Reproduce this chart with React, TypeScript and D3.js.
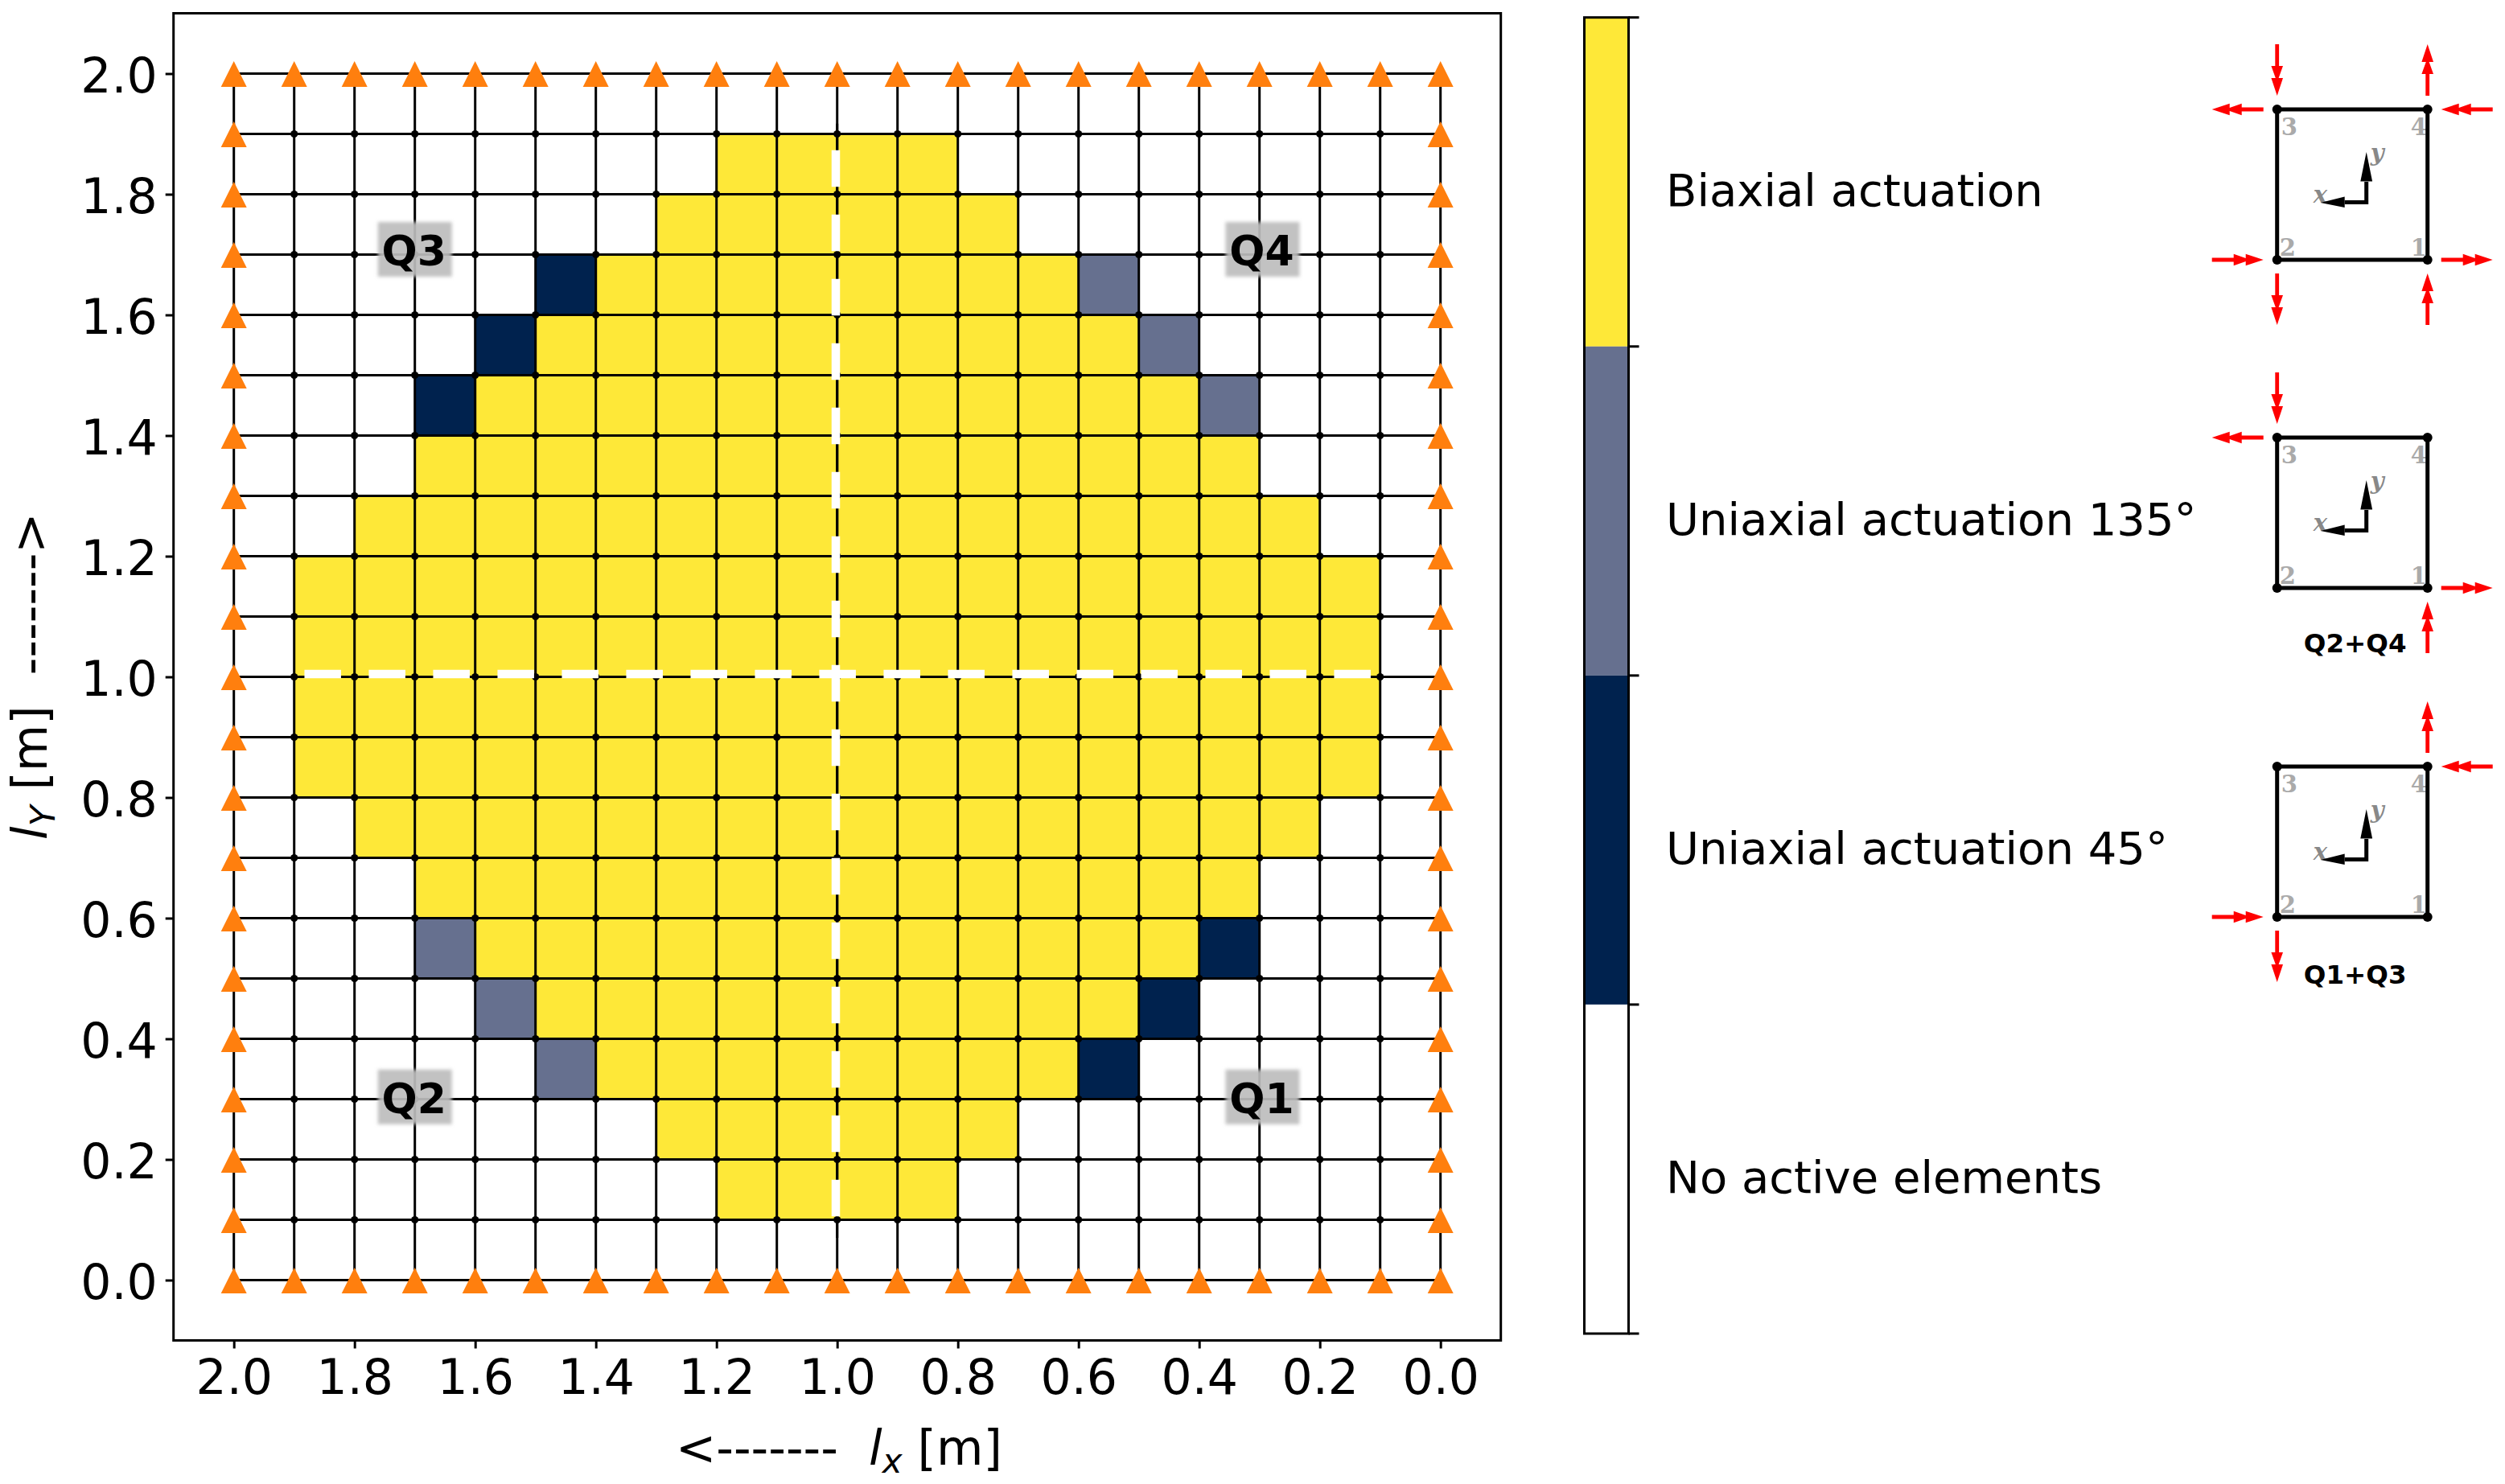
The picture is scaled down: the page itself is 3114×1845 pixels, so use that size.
import React, { useEffect, useRef } from 'react';
import * as d3 from 'd3';

const WIDTH = 3114;
const HEIGHT = 1845;
const FONT = '"DejaVu Sans", sans-serif';
const SERIF = '"DejaVu Serif", serif';

// one string per row, top row first. columns run from lx = 2.0 to lx = 0.0
// . none, B biaxial, S uniaxial 135, N uniaxial 45
const cellRows = [
  '....................',
  '........BBBB........',
  '.......BBBBBB.......',
  '.....NBBBBBBBBS.....',
  '....NBBBBBBBBBBS....',
  '...NBBBBBBBBBBBBS...',
  '...BBBBBBBBBBBBBB...',
  '..BBBBBBBBBBBBBBBB..',
  '.BBBBBBBBBBBBBBBBBB.',
  '.BBBBBBBBBBBBBBBBBB.',
  '.BBBBBBBBBBBBBBBBBB.',
  '.BBBBBBBBBBBBBBBBBB.',
  '..BBBBBBBBBBBBBBBB..',
  '...BBBBBBBBBBBBBB...',
  '...SBBBBBBBBBBBBN...',
  '....SBBBBBBBBBBN....',
  '.....SBBBBBBBBN.....',
  '.......BBBBBB.......',
  '........BBBB........',
  '....................',
];

const cellColors: Record<string, string> = {
  B: '#fee838',
  S: '#66708f',
  N: '#00224e',
};

const gridValues = d3.range(0, 21).map((i) => i / 10);
const tickValues = [0, 0.2, 0.4, 0.6, 0.8, 1.0, 1.2, 1.4, 1.6, 1.8, 2.0];

const legendKeys = ['B', 'S', 'N', '.'];
const legendLabels = [
  'Biaxial actuation',
  'Uniaxial actuation 135°',
  'Uniaxial actuation 45°',
  'No active elements',
];

const quadrantNames = ['Q3', 'Q4', 'Q2', 'Q1'];
const quadrantLx = [1.7, 0.295, 1.7, 0.295];
const quadrantLy = [1.7, 1.7, 0.295, 0.295];

// corner numbers of the element sketch: [name, u, v]
const sketchCorners: [string, number, number][] = [
  ['1', 1, 1],
  ['2', 0, 1],
  ['3', 0, 0],
  ['4', 1, 0],
];

// arrows at a corner: corner name, side it sits on, pointing towards the corner or not
type SketchArrow = [string, 'up' | 'down' | 'left' | 'right', boolean];

const arrowsQ3Q4Pair: SketchArrow[] = [
  ['3', 'up', true],
  ['3', 'left', false],
  ['1', 'right', false],
  ['1', 'down', true],
];
const arrowsQ1Q3Pair: SketchArrow[] = [
  ['4', 'up', false],
  ['4', 'right', true],
  ['2', 'left', true],
  ['2', 'down', false],
];
const sketchTops = [136, 544, 953];
const sketchArrows = [[...arrowsQ3Q4Pair, ...arrowsQ1Q3Pair], arrowsQ3Q4Pair, arrowsQ1Q3Pair];
const sketchTitles = ['', 'Q2+Q4', 'Q1+Q3'];

const sideVectors = {
  up: [0, -1],
  down: [0, 1],
  left: [-1, 0],
  right: [1, 0],
};

const App: React.FC = () => {
  const svgRef = useRef<SVGSVGElement>(null);

  useEffect(() => {
    const svg = d3.select(svgRef.current);
    svg.selectAll('*').remove();

    const x = d3.scaleLinear().domain([2.1, -0.1]).range([215.7, 1865.7]);
    const y = d3.scaleLinear().domain([-0.1, 2.1]).range([1666.5, 16.5]);

    svg.append('defs')
      .append('filter')
      .attr('id', 'soft')
      .append('feGaussianBlur')
      .attr('stdDeviation', 2);

    // Cells
    const cells = cellRows.flatMap((row, r) =>
      row.split('').map((key, c) => ({ key, lx: gridValues[20 - c], ly: gridValues[20 - r] }))
    ).filter((d) => d.key !== '.');

    svg.append('g')
      .selectAll('rect')
      .data(cells)
      .join('rect')
      .attr('x', (d) => x(d.lx))
      .attr('y', (d) => y(d.ly))
      .attr('width', x(0) - x(0.1))
      .attr('height', y(0) - y(0.1))
      .attr('fill', (d) => cellColors[d.key]);

    // Mesh lines
    const mesh = svg.append('g').attr('stroke', '#000').attr('stroke-width', 3);
    mesh.selectAll('.h')
      .data(gridValues)
      .join('line')
      .attr('x1', x(2))
      .attr('x2', x(0))
      .attr('y1', (d) => y(d))
      .attr('y2', (d) => y(d));
    mesh.selectAll('.v')
      .data(gridValues)
      .join('line')
      .attr('class', 'v')
      .attr('y1', y(2))
      .attr('y2', y(0))
      .attr('x1', (d) => x(d))
      .attr('x2', (d) => x(d));

    const nodes = gridValues.flatMap((lx) => gridValues.map((ly) => ({ lx, ly })));
    svg.append('g')
      .selectAll('circle')
      .data(nodes)
      .join('circle')
      .attr('cx', (d) => x(d.lx))
      .attr('cy', (d) => y(d.ly))
      .attr('r', 4.6)
      .attr('fill', '#000');

    // Symmetry lines, black under white dashes
    const symmetry = svg.append('g');
    symmetry.append('line')
      .attr('x1', x(1.927)).attr('x2', x(0.079))
      .attr('y1', y(1)).attr('y2', y(1))
      .attr('stroke', '#000').attr('stroke-width', 3);
    symmetry.append('line')
      .attr('x1', x(1)).attr('x2', x(1))
      .attr('y1', y(1.917)).attr('y2', y(0.07))
      .attr('stroke', '#000').attr('stroke-width', 3);
    symmetry.append('line')
      .attr('x1', x(1.883)).attr('x2', x(0.115))
      .attr('y1', y(1.0047)).attr('y2', y(1.0047))
      .attr('stroke', '#fff').attr('stroke-width', 10.5)
      .attr('stroke-dasharray', '45.5 34.5');
    symmetry.append('line')
      .attr('x1', x(1.0023)).attr('x2', x(1.0023))
      .attr('y1', y(1.873)).attr('y2', y(0.105))
      .attr('stroke', '#fff').attr('stroke-width', 10.5)
      .attr('stroke-dasharray', '45.5 34.5');

    // Supports along the boundary
    const boundary = nodes.filter((d) => d.lx === 0 || d.lx === 2 || d.ly === 0 || d.ly === 2);
    svg.append('g')
      .selectAll('path')
      .data(boundary)
      .join('path')
      .attr('transform', (d) => `translate(${x(d.lx)},${y(d.ly)})`)
      .attr('d', 'M0,-15.5L16,16.5L-16,16.5Z')
      .attr('fill', '#ff7f0e');

    // Quadrant labels
    const quadrants = svg.append('g');
    quadrantNames.forEach((name, i) => {
      quadrants.append('rect')
        .attr('x', x(quadrantLx[i]) - 46)
        .attr('y', y(quadrantLy[i]) - 40.5)
        .attr('width', 92)
        .attr('height', 68)
        .attr('fill', '#bdbdbd')
        .attr('fill-opacity', 0.92)
        .attr('filter', 'url(#soft)');
      quadrants.append('text')
        .attr('x', x(quadrantLx[i]) - 1)
        .attr('y', y(quadrantLy[i]) + 13.5)
        .attr('text-anchor', 'middle')
        .style('font-family', FONT)
        .style('font-weight', 'bold')
        .style('font-size', '52px')
        .text(name);
    });

    // Axes box and ticks
    const axisBottom = d3.axisBottom(x).tickValues(tickValues).tickFormat(d3.format('.1f')).tickSize(10);
    const axisLeft = d3.axisLeft(y).tickValues(tickValues).tickFormat(d3.format('.1f')).tickSize(10);
    const gx = svg.append('g').attr('transform', `translate(0,${y.range()[0]})`).call(axisBottom as any);
    const gy = svg.append('g').attr('transform', `translate(${x.range()[0]},0)`).call(axisLeft as any);
    [gx, gy].forEach((g) => {
      g.select('.domain').remove();
      g.selectAll('line').attr('stroke', '#000').attr('stroke-width', 3);
      g.selectAll('text')
        .attr('fill', '#000')
        .style('font-family', FONT)
        .style('font-size', '60px');
    });
    gx.selectAll('text').attr('y', 66).attr('dy', 0);
    gy.selectAll('text').attr('x', -20).attr('dy', 22.5);

    svg.append('rect')
      .attr('x', x.range()[0])
      .attr('y', y.range()[1])
      .attr('width', x.range()[1] - x.range()[0])
      .attr('height', y.range()[0] - y.range()[1])
      .attr('fill', 'none')
      .attr('stroke', '#000')
      .attr('stroke-width', 3);

    // Axis titles
    const xTitle = svg.append('text')
      .attr('x', 840)
      .attr('y', 1821)
      .attr('xml:space', 'preserve')
      .style('white-space', 'pre')
      .style('font-family', FONT)
      .style('font-size', '60px');
    xTitle.append('tspan').text('<-------  ');
    xTitle.append('tspan').style('font-style', 'italic').text('l');
    xTitle.append('tspan').style('font-style', 'italic').style('font-size', '42px').attr('dy', 10).text('x');
    xTitle.append('tspan').attr('dy', -10).text(' [m]');

    const yTitle = svg.append('text')
      .attr('transform', 'translate(57.5,1044) rotate(-90)')
      .attr('xml:space', 'preserve')
      .style('white-space', 'pre')
      .style('font-family', FONT)
      .style('font-size', '60px');
    yTitle.append('tspan').style('font-style', 'italic').text('l');
    yTitle.append('tspan').style('font-style', 'italic').style('font-size', '42px').attr('dy', 10).text('Y');
    yTitle.append('tspan').attr('dy', -10).text(' [m]  ------->');

    // Colour bar
    const legendY = d3.scaleLinear().domain([0, 4]).range([21.7, 1658]);
    const legendX = [1969.5, 2024.5];
    const legend = svg.append('g');
    legend.selectAll('rect')
      .data(legendKeys)
      .join('rect')
      .attr('x', legendX[0])
      .attr('y', (_, i) => legendY(i))
      .attr('width', legendX[1] - legendX[0])
      .attr('height', legendY(1) - legendY(0))
      .attr('fill', (d) => cellColors[d] ?? '#fff');
    legend.append('rect')
      .attr('x', legendX[0])
      .attr('y', legendY(0))
      .attr('width', legendX[1] - legendX[0])
      .attr('height', legendY(4) - legendY(0))
      .attr('fill', 'none')
      .attr('stroke', '#000')
      .attr('stroke-width', 3);
    legend.selectAll('.tick')
      .data([0, 1, 2, 3, 4])
      .join('line')
      .attr('class', 'tick')
      .attr('x1', legendX[1])
      .attr('x2', legendX[1] + 13)
      .attr('y1', (d) => legendY(d))
      .attr('y2', (d) => legendY(d))
      .attr('stroke', '#000')
      .attr('stroke-width', 3);
    legend.selectAll('text')
      .data(legendLabels)
      .join('text')
      .attr('x', 2071)
      .attr('y', (_, i) => legendY(i + 0.5) + 30)
      .style('font-family', FONT)
      .style('font-size', '56px')
      .text((d) => d);

    // Element sketches
    const side = 187;
    const unit = d3.scaleLinear().domain([0, 1]).range([0, side]);
    sketchTops.forEach((top, s) => {
      const g = svg.append('g').attr('transform', `translate(2830.7,${top})`);

      g.selectAll('.num')
        .data(sketchCorners)
        .join('text')
        .attr('class', 'num')
        .attr('x', (d) => (d[1] === 1 ? unit(1) - 21 : unit(0) + (d[2] === 1 ? 3 : 5)))
        .attr('y', (d) => (d[2] === 1 ? unit(1) - 5 : unit(0) + 32))
        .attr('fill', '#aaa')
        .style('font-family', SERIF)
        .style('font-weight', 'bold')
        .style('font-size', '29px')
        .text((d) => d[0]);

      g.selectAll('.dir')
        .data([['x', 45, 116], ['y', 116, 64]])
        .join('text')
        .attr('class', 'dir')
        .attr('x', (d) => d[1])
        .attr('y', (d) => d[2])
        .attr('fill', '#888')
        .style('font-family', SERIF)
        .style('font-weight', 'bold')
        .style('font-style', 'italic')
        .style('font-size', '29px')
        .text((d) => d[0]);

      g.append('rect')
        .attr('width', side)
        .attr('height', side)
        .attr('fill', 'none')
        .attr('stroke', '#000')
        .attr('stroke-width', 5);
      g.selectAll('circle')
        .data(sketchCorners)
        .join('circle')
        .attr('cx', (d) => unit(d[1]))
        .attr('cy', (d) => unit(d[2]))
        .attr('r', 6)
        .attr('fill', '#000');

      // local x, y axes
      g.append('path')
        .attr('d', 'M84,115.5H111V90')
        .attr('fill', 'none')
        .attr('stroke', '#000')
        .attr('stroke-width', 5);
      g.append('path').attr('d', 'M111,53L118.4,89.5H103.6Z');
      g.append('path').attr('d', 'M54,116L84,108.5V122Z');

      // red double headed arrows
      g.selectAll('.load')
        .data(sketchArrows[s])
        .join('path')
        .attr('class', 'load')
        .attr('fill', '#ff0000')
        .attr('transform', ([name, dir, inward]) => {
          const corner = sketchCorners.find((c) => c[0] === name)!;
          const [dx, dy] = sideVectors[dir];
          const gap = inward ? 81 : 17;
          const px = unit(corner[1]) + dx * gap;
          const py = unit(corner[2]) + dy * gap;
          const angle = (Math.atan2(dy, dx) * 180) / Math.PI + (inward ? 180 : 0);
          return `translate(${px},${py}) rotate(${angle})`;
        })
        .attr('d', 'M0,-2.4H27V-7.3L42,-1.9V-7.3L64,0L42,7.3V1.9L27,7.3V2.4H0Z');

      if (sketchTitles[s]) {
        g.append('text')
          .attr('x', 97)
          .attr('y', side + (s === 1 ? 80 : 83))
          .attr('text-anchor', 'middle')
          .style('font-family', FONT)
          .style('font-weight', 'bold')
          .style('font-size', '32.5px')
          .text(sketchTitles[s]);
      }
    });
  }, []);

  return (
    <svg
      ref={svgRef}
      width={WIDTH}
      height={HEIGHT}
      viewBox={`0 0 ${WIDTH} ${HEIGHT}`}
      style={{ position: 'absolute', left: 0, top: 0, display: 'block', background: '#fff' }}
    />
  );
};

export default App;
